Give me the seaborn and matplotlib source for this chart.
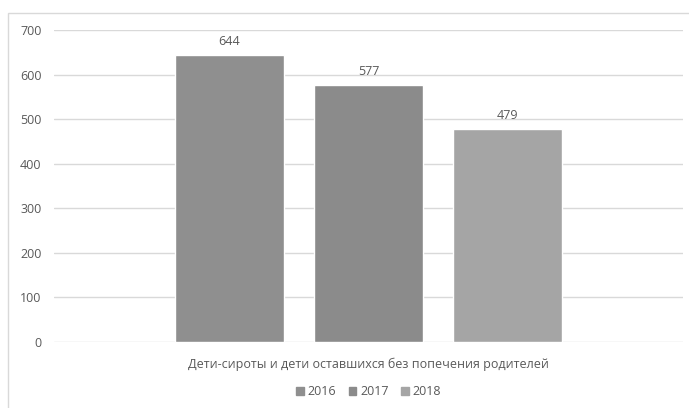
import pandas as pd
import matplotlib.pyplot as plt
import matplotlib.patches as mpatches
import seaborn as sns

# Данные
categoria = ["Дети-сироты и дети оставшихся без попечения родителей"]
anios = ["2016", "2017", "2018"]
valores = [644, 577, 479]
colores = ["#8f8f8f", "#8b8b8b", "#a5a5a5"]

df = pd.DataFrame({
    "Категория": categoria * len(anios),
    "Год": anios,
    "Количество": valores,
})

sns.set_style("white")
plt.rcParams["font.family"] = ["Open Sans", "DejaVu Sans"]
texto = "#595959"

fig = plt.figure(figsize=(6.89, 4.08), dpi=100)
ax = fig.add_axes([54 / 689, 1 - 342 / 408, 629 / 689, 312 / 408])

sns.barplot(data=df, x="Категория", y="Количество", hue="Год",
            palette=colores, width=0.663, gap=0.22, ax=ax, legend=False)

for cont in ax.containers:
    ax.bar_label(cont, padding=5, fontsize=9, color=texto)

ax.set_xlim(-0.5, 0.5)
ax.set_ylim(0, 700)
ax.set_yticks(range(0, 701, 100))
ax.yaxis.grid(True, color="#d9d9d9", linewidth=1)
ax.set_axisbelow(True)
for s in ax.spines.values():
    s.set_visible(False)
ax.set_xlabel("")
ax.set_ylabel("")
ax.tick_params(axis="y", length=0, pad=9, labelsize=9, labelcolor=texto)
ax.tick_params(axis="x", length=0, pad=11, labelsize=9, labelcolor=texto)

# Легенда
handles = [mpatches.Patch(color=c, label=a) for c, a in zip(colores, anios)]
fig.legend(handles=handles, loc="center", bbox_to_anchor=(0.535, 0.04),
           ncol=3, frameon=False, fontsize=9, labelcolor=texto,
           handlelength=0.6, handleheight=0.6, handletextpad=0.3,
           columnspacing=1.0)

# Рамка диаграммы
fig.patches.append(mpatches.Rectangle((8 / 689, -0.05), 1.0, 1 - 13 / 408 + 0.05,
                                      transform=fig.transFigure, fill=False,
                                      edgecolor="#d9d9d9", linewidth=1))

fig.savefig("out.png", dpi=100)
